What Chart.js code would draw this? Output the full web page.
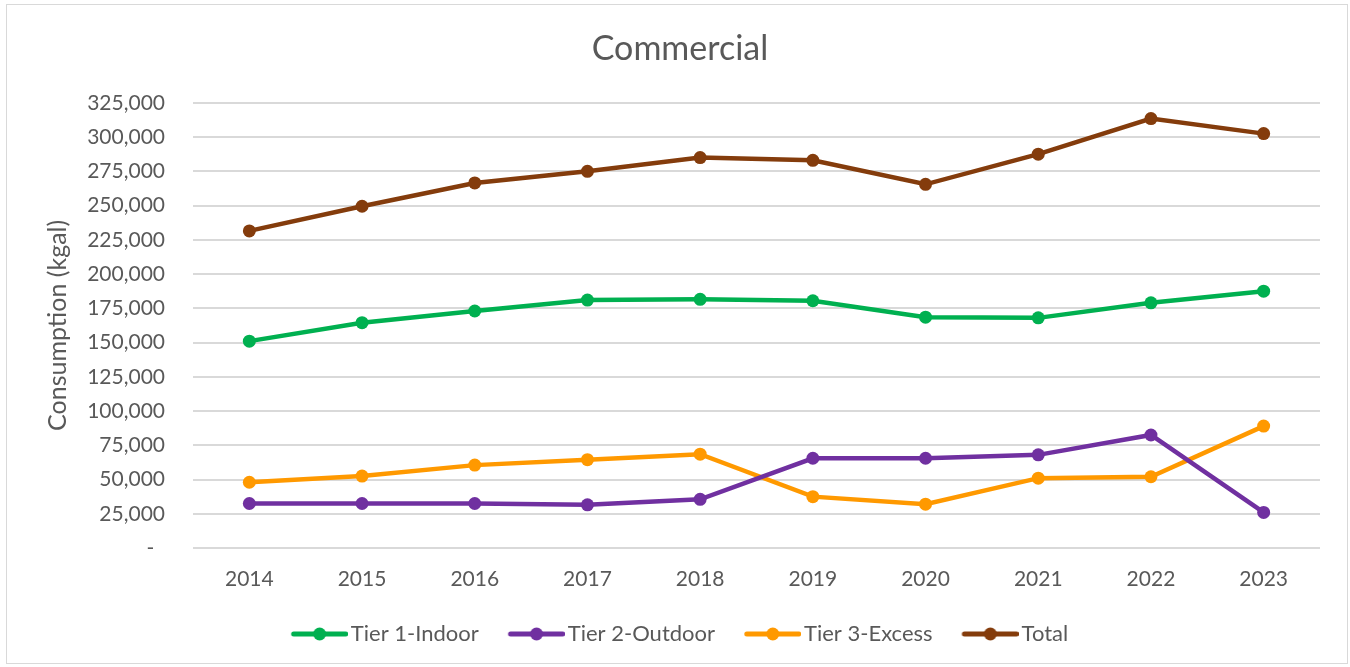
<!DOCTYPE html>
<html>
<head>
<meta charset="utf-8">
<script src="https://cdn.jsdelivr.net/npm/chart.js@4.4.0/dist/chart.umd.min.js"></script>
<style>
  html, body { margin: 0; padding: 0; background: #fff; }
  #wrap { position: absolute; left: 6px; top: 4px; width: 1342px; height: 660px; border: 1px solid #d9d9d9; box-sizing: border-box; }
  #chart { position: absolute; left: 0; top: 0; }
</style>
</head>
<body>
<div id="wrap"></div>
<canvas id="chart" width="1350" height="667"></canvas>
<script>
var years = ['2014', '2015', '2016', '2017', '2018', '2019', '2020', '2021', '2022', '2023'];
var tier1Indoor = [151000, 164500, 173000, 181000, 181500, 180500, 168500, 168000, 179000, 187500];
var tier2Outdoor = [32500, 32500, 32500, 31500, 35500, 65500, 65500, 68000, 82500, 26000];
var tier3Excess = [48000, 52500, 60500, 64500, 68500, 37500, 32000, 51000, 52000, 89000];
var total = [231500, 249500, 266500, 275000, 285000, 283000, 265500, 287500, 313500, 302500];

var textColor = '#595959';
var fontName = 'Lato, "Open Sans", sans-serif';

// legend marker: line with a dot in the middle, like excel.
// chart.js centres the image at boxWidth/2, so the line is shifted right a bit
function legendMark(color) {
	var c = document.createElement('canvas');
	c.width = 64; c.height = 16;
	var g = c.getContext('2d');
	var x0 = 7.75, x1 = 63.75, mid = (x0 + x1) / 2;
	g.strokeStyle = color;
	g.lineWidth = 5;
	g.lineCap = 'round';
	g.beginPath();
	g.moveTo(x0 + 2, 8); g.lineTo(x1 - 2, 8);
	g.stroke();
	g.fillStyle = color;
	g.beginPath();
	g.arc(mid, 8, 6.5, 0, Math.PI * 2);
	g.fill();
	return c;
}

function series(label, data, color) {
	return {
		label: label,
		data: data,
		borderColor: color,
		backgroundColor: color,
		borderWidth: 4.5,
		pointRadius: 6.5,
		pointHoverRadius: 6.5,
		pointBackgroundColor: color,
		pointBorderWidth: 0,
		pointStyle: 'circle',
		tension: 0
	};
}

var ctx = document.getElementById('chart').getContext('2d');

var chart = new Chart(ctx, {
	type: 'line',
	data: {
		labels: years,
		datasets: [
			series('Tier 1-Indoor', tier1Indoor, '#00b050'),
			series('Tier 2-Outdoor', tier2Outdoor, '#7030a0'),
			series('Tier 3-Excess', tier3Excess, '#ff9900'),
			series('Total', total, '#843c0c')
		]
	},
	options: {
		responsive: false,
		animation: false,
		layout: { padding: { left: 40, right: 30, top: 29, bottom: 12 } },
		plugins: {
			title: {
				display: true,
				text: 'Commercial',
				color: textColor,
				font: { family: fontName, size: 34, weight: 'normal' },
				padding: { top: 0, bottom: 33 }
			},
			legend: {
				position: 'bottom',
				labels: {
					color: textColor,
					font: { family: fontName, size: 22 },
					usePointStyle: true,
					pointStyleWidth: 48,
					boxHeight: 16,
					padding: 30,
					generateLabels: function (ch) {
						return ch.data.datasets.map(function (ds, i) {
							return {
								text: ds.label,
								fillStyle: ds.borderColor,
								strokeStyle: ds.borderColor,
								fontColor: textColor,
								lineWidth: 0,
								pointStyle: legendMark(ds.borderColor),
								datasetIndex: i,
								hidden: false
							};
						});
					}
				}
			},
			tooltip: { enabled: false }
		},
		scales: {
			x: {
				offset: true,
				grid: { display: false },
				border: { display: false },
				ticks: {
					color: textColor,
					font: { family: fontName, size: 21 },
					padding: 11
				},
				afterFit: function (s) { s.height = 45; }
			},
			y: {
				min: 0,
				max: 325000,
				grid: { color: '#d9d9d9', lineWidth: 2, drawTicks: false },
				border: { display: false },
				ticks: {
					stepSize: 25000,
					color: textColor,
					font: { family: fontName, size: 21 },
					padding: 28,
					callback: function (v) {
						return v === 0 ? '-  ' : v.toLocaleString('en-US');
					}
				},
				title: {
					display: true,
					text: 'Consumption (kgal)',
					color: textColor,
					font: { family: fontName, size: 25 },
					padding: { top: 3, bottom: 10 }
				},
				afterFit: function (s) { s.width = 153; }
			}
		}
	}
});
</script>
</body>
</html>
